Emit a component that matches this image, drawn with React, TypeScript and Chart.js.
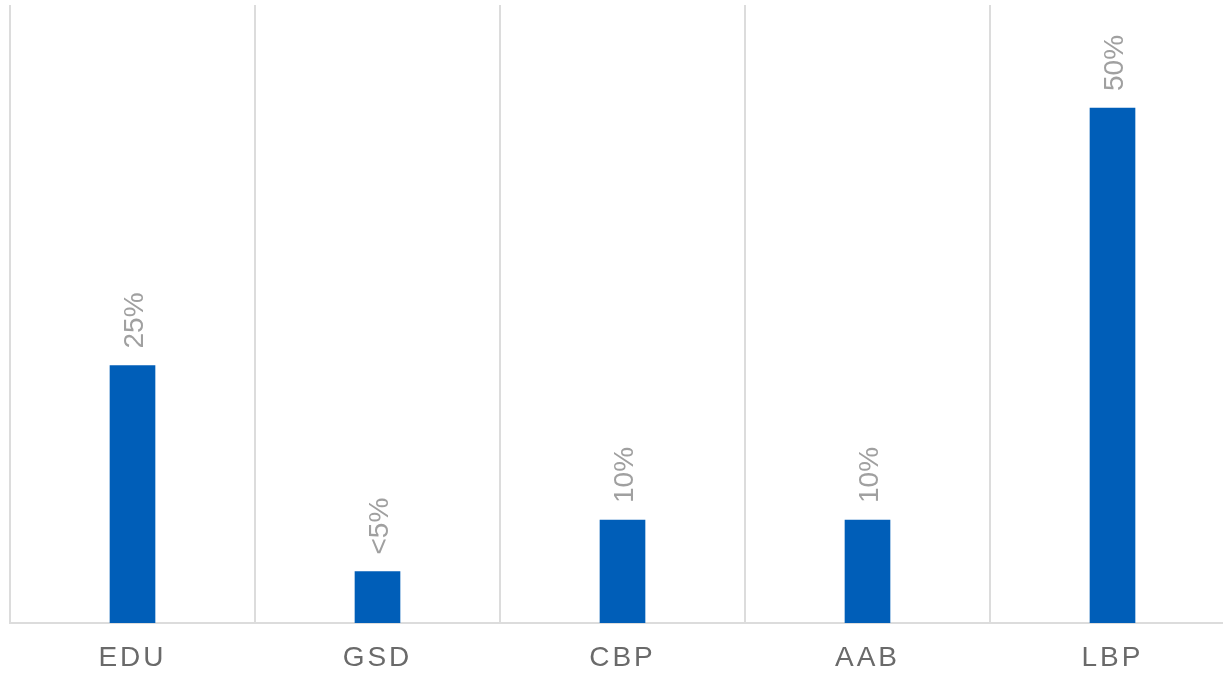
import React, { useEffect, useRef } from "react";
import { Chart, registerables } from "chart.js";

Chart.register(...registerables);

const categories = ["EDU", "GSD", "CBP", "AAB", "LBP"];
const values = [25, 5, 10, 10, 50];
const valueLabels = ["25%", "<5%", "10%", "10%", "50%"];
const yMax = 60;

const FONT = "'Liberation Sans', Arial, sans-serif";
const LABEL_SIZE = 28;

const barLabelPlugin = {
  id: "barLabels",
  afterDatasetsDraw(chart: any) {
    const ctx = chart.ctx;
    const meta = chart.getDatasetMeta(0);
    ctx.save();
    ctx.font = `${LABEL_SIZE}px ${FONT}`;
    ctx.fillStyle = "#a0a0a0";
    ctx.textAlign = "left";
    ctx.textBaseline = "alphabetic";
    meta.data.forEach((bar: any, i: number) => {
      ctx.save();
      ctx.translate(bar.x + LABEL_SIZE * 0.36, bar.y - 17);
      ctx.rotate(-Math.PI / 2);
      ctx.fillText(valueLabels[i], 0, 0);
      ctx.restore();
    });
    ctx.restore();
  },
};

const spacingPlugin = {
  id: "letterSpacing",
  beforeDraw(chart: any) {
    (chart.ctx as any).letterSpacing = "3px";
  },
  beforeDatasetsDraw(chart: any) {
    (chart.ctx as any).letterSpacing = "0px";
  },
};

export default function App() {
  const ref = useRef<HTMLCanvasElement | null>(null);
  useEffect(() => {
    if (!ref.current) return;
    const chart = new Chart(ref.current, {
      type: "bar",
      data: {
        labels: categories,
        datasets: [
          {
            data: values,
            backgroundColor: "#005EB8",
            barThickness: 45,
          },
        ],
      },
      plugins: [spacingPlugin, barLabelPlugin],
      options: {
        animation: false,
        responsive: false,
        maintainAspectRatio: false,
        layout: { padding: { left: 10, top: 5, right: 0, bottom: 0 } },
        plugins: { legend: { display: false }, tooltip: { enabled: false } },
        scales: {
          x: {
            offset: true,
            afterFit: (scale: any) => {
              scale.height = 50;
            },
            grid: {
              display: true,
              offset: true,
              color: "#dcdcdc",
              lineWidth: 2,
              drawTicks: false,
            },
            border: { display: true, color: "#dcdcdc", width: 2 },
            ticks: {
              color: "#6a6a6a",
              font: { family: FONT, size: 28 },
              padding: 18,
              maxRotation: 0,
            },
          },
          y: {
            display: false,
            min: 0,
            max: yMax,
          },
        },
      },
    });
    return () => chart.destroy();
  }, []);
  return (
    <div style={{ position: "absolute", left: 0, top: 0, width: 1235, height: 673, overflow: "hidden" }}>
      <canvas ref={ref} width={1235} height={673} style={{ display: "block" }} />
    </div>
  );
}
